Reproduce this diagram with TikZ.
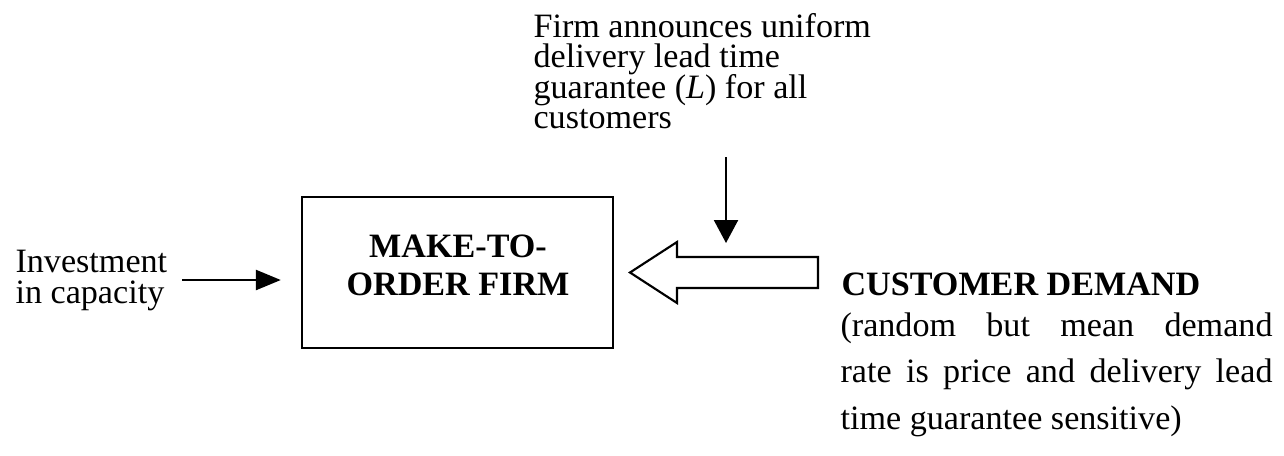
\documentclass[tikz,border=0pt]{standalone}
\usepackage{fontspec}
\setmainfont{Liberation Serif}
\usetikzlibrary{arrows.meta}
\newcommand\tightlines{\lineskiplimit-10pt\relax}
\begin{document}
\begin{tikzpicture}[x=0.375pt,y=-0.375pt,
  every node/.style={inner sep=0pt,font=\fontsize{12.8}{11.4}\selectfont\tightlines},
  firmbox/.style={draw,line width=0.9pt,minimum width=116.6pt,minimum height=56.6pt},
  flow/.style={line width=1pt,-{Triangle[length=9.4pt,width=7.5pt]}},
  drop/.style={line width=0.75pt,-{Triangle[length=8.6pt,width=9pt]}},
  hollow/.style={draw,line width=0.8pt,line join=miter}]
\useasboundingbox (0,0) rectangle (1284,455);
\node[firmbox] (firm) at (457.5,272.5) {};
\node[align=center,font=\fontsize{12.8}{14.25}\selectfont\bfseries] (firmlbl) at (458,265) {MAKE-TO-\\ORDER FIRM};
\node[anchor=north west,align=left] (invest) at (15,250) {Investment\\in capacity};
\node[anchor=north west,align=left] (leadtime) at (533,13) {Firm announces uniform\\delivery lead time\\guarantee (\textit{L}) for all\\customers};
\node[anchor=west,font=\fontsize{12.8}{11.6}\selectfont\bfseries] (demand) at (841,284) {CUSTOMER DEMAND};
\node[anchor=north west,text width=162pt,align=justify,font=\fontsize{12.8}{17.4}\selectfont] (demandnote) at (840,312) {(random but mean demand\linebreak rate is price and delivery lead\linebreak time guarantee sensitive)};
\coordinate (capin) at (182,280);
\draw[flow,shorten >=7.5pt] (capin) -- (capin -| firm.west);
\coordinate (Ltop) at (726,157);
\coordinate (Lend) at (726,243);
\draw[drop] (Ltop) -- (Lend);
\draw[hollow] (818,257) -- (677,257) -- (677,242) -- (630,272.5) -- (677,303) -- (677,288) -- (818,288) -- cycle;
\end{tikzpicture}
\end{document}
